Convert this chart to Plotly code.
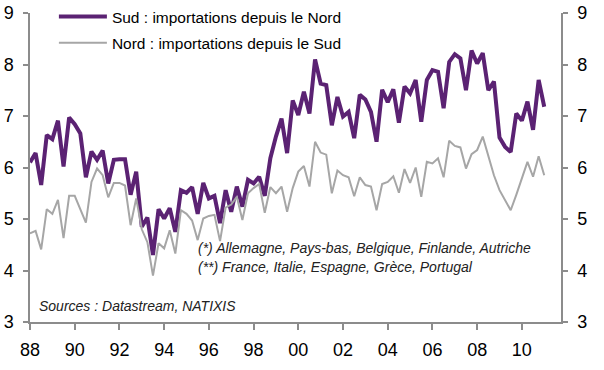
import plotly.graph_objects as go

start_year = 1988
quarters_per_year = 4

sud_values = [
    6.10, 6.28, 5.66, 6.63, 6.55, 6.91, 6.02, 6.97, 6.84, 6.66,
    5.81, 6.31, 6.15, 6.33, 5.69, 6.15, 6.16, 6.16, 5.47, 5.92,
    4.85, 5.03, 4.30, 5.19, 5.01, 5.21, 4.75, 5.56, 5.51, 5.62,
    5.10, 5.70, 5.40, 5.45, 4.92, 5.56, 5.14, 5.63, 5.24, 5.76,
    5.69, 5.82, 5.45, 6.18, 6.60, 6.95, 6.28, 7.30, 7.02, 7.47,
    7.05, 8.10, 7.63, 7.60, 6.82, 7.37, 6.99, 7.08, 6.57, 7.41,
    7.32, 7.08, 6.50, 7.51, 7.27, 7.52, 6.87, 7.57, 7.44, 7.70,
    6.89, 7.70, 7.89, 7.86, 7.15, 8.05, 8.20, 8.12, 7.50, 8.27,
    8.02, 8.22, 7.50, 7.67, 6.58, 6.40, 6.30, 7.05, 6.91, 7.28,
    6.73, 7.70, 7.18,
]

nord_values = [
    4.72, 4.77, 4.41, 5.19, 5.10, 5.37, 4.63, 5.45, 5.45, 5.17,
    4.93, 5.72, 5.98, 5.85, 5.42, 5.70, 5.70, 5.65, 4.88, 5.40,
    4.80, 4.55, 3.90, 4.53, 4.43, 4.78, 4.33, 5.17, 5.10, 4.97,
    4.59, 5.01, 5.06, 5.08, 4.57, 5.22, 5.28, 5.43, 4.98, 5.50,
    5.60, 5.68, 5.12, 5.62, 5.50, 5.63, 5.14, 5.60, 5.92, 6.03,
    5.63, 6.50, 6.29, 6.25, 5.50, 5.94, 5.85, 5.81, 5.44, 5.81,
    5.66, 5.63, 5.17, 5.68, 5.72, 5.83, 5.51, 5.97, 5.70, 6.00,
    5.43, 6.11, 6.08, 6.18, 5.81, 6.52, 6.42, 6.39, 5.98, 6.26,
    6.34, 6.60, 6.21, 5.85, 5.56, 5.37, 5.17, 5.47, 5.79, 6.11,
    5.82, 6.22, 5.85,
]

dates = [start_year + i / quarters_per_year for i in range(len(sud_values))]

x_tick_vals = [1988, 1990, 1992, 1994, 1996, 1998, 2000, 2002, 2004, 2006, 2008, 2010]
x_tick_text = ["88", "90", "92", "94", "96", "98", "00", "02", "04", "06", "08", "10"]
y_tick_vals = [3, 4, 5, 6, 7, 8, 9]

sud_name = "Sud : importations depuis le Nord"
nord_name = "Nord : importations depuis le Sud"
note_1 = "(*) Allemagne, Pays-bas, Belgique, Finlande, Autriche"
note_2 = "(**) France, Italie, Espagne, Grèce, Portugal"
source_text = "Sources : Datastream, NATIXIS"

PURPLE = "#5B2273"
GRAY = "#A6A6A6"
AXIS = "#8C8C8C"
FONT = "Liberation Sans, Arial, sans-serif"

fig = go.Figure()
fig.add_trace(go.Scatter(
    x=dates, y=sud_values, mode="lines", name=sud_name,
    line=dict(color=PURPLE, width=4), legendgroup="a", yaxis="y",
))
fig.add_trace(go.Scatter(
    x=dates, y=nord_values, mode="lines", name=nord_name,
    line=dict(color=GRAY, width=2), legendgroup="b", yaxis="y2",
))

axis_common = dict(
    range=[3, 9], tickvals=y_tick_vals, showgrid=False, zeroline=False,
    showline=True, linecolor=AXIS, linewidth=1.5,
    ticks="outside", ticklen=5, tickcolor=AXIS, tickwidth=1.5,
    tickfont=dict(family=FONT, size=18, color="#000"),
)

fig.update_layout(
    width=604, height=370,
    margin=dict(l=30, r=43, t=13, b=48, autoexpand=False),
    paper_bgcolor="white", plot_bgcolor="white",
    font=dict(family=FONT, color="#000"),
    xaxis=dict(
        range=[1988, 2011.75], tickvals=x_tick_vals, ticktext=x_tick_text,
        showgrid=False, zeroline=False, showline=True, linecolor=AXIS, linewidth=1.5,
        ticks="outside", ticklen=6, tickcolor=AXIS, tickwidth=1.5,
        tickfont=dict(family=FONT, size=18, color="#000"),
        ticklabelstandoff=5, automargin=False,
    ),
    yaxis=dict(side="left", ticklabelstandoff=6, automargin=False, **axis_common),
    yaxis2=dict(side="right", overlaying="y", ticklabelstandoff=6, automargin=False, **axis_common),
    legend=dict(
        x=0.045, y=1.0, xanchor="left", yanchor="top",
        xref="paper", yref="container",
        font=dict(family=FONT, size=15.5, color="#000"),
        bgcolor="rgba(0,0,0,0)", tracegroupgap=3, itemwidth=48,
    ),
    showlegend=True,
)

note_font = dict(family=FONT, size=14, color="#222")
fig.add_annotation(
    xref="paper", yref="paper", x=(196 - 30) / 531, y=(322 - 248) / 309,
    xanchor="left", yanchor="middle", text="<i>" + note_1 + "</i>",
    showarrow=False, font=note_font,
)
fig.add_annotation(
    xref="paper", yref="paper", x=(196 - 30) / 531, y=(322 - 267) / 309,
    xanchor="left", yanchor="middle", text="<i>" + note_2 + "</i>",
    showarrow=False, font=note_font,
)
fig.add_annotation(
    xref="paper", yref="paper", x=(37 - 30) / 531, y=(322 - 306) / 309,
    xanchor="left", yanchor="middle", text="<i>" + source_text + "</i>",
    showarrow=False, font=note_font,
)

fig.write_html(
    "out.html",
    config={"displayModeBar": False},
    post_script="document.body.style.margin='0';document.body.style.overflow='hidden';",
)
